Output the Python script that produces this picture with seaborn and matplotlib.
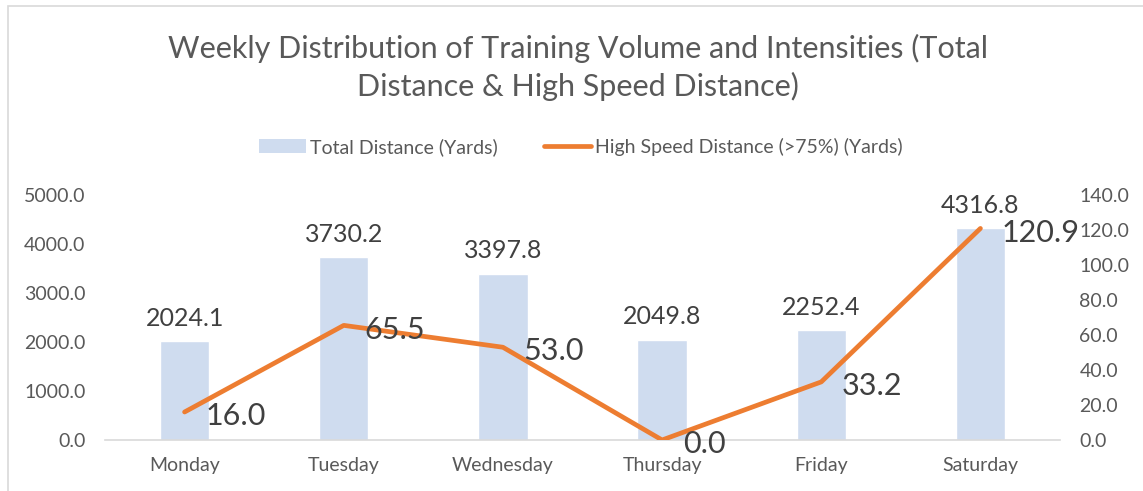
import pandas as pd
import seaborn as sns
import matplotlib.pyplot as plt
from matplotlib.patches import Patch, Rectangle
from matplotlib.lines import Line2D

days = ['Monday', 'Tuesday', 'Wednesday', 'Thursday', 'Friday', 'Saturday']
total_distance = [2024.1, 3730.2, 3397.8, 2049.8, 2252.4, 4316.8]
high_speed = [16.0, 65.5, 53.0, 0.0, 33.2, 120.9]

df = pd.DataFrame({'day': days, 'total': total_distance, 'hsd': high_speed})

sns.set_theme(style='white')
plt.rcParams['font.family'] = ['Lato', 'DejaVu Sans']

bar_color = '#CFDCEF'
line_color = '#ED7D31'
tick_color = '#595959'
label_color = '#404040'

fig = plt.figure(figsize=(11.43, 4.91), dpi=100)
fig.patches.append(Rectangle((8 / 1143, -0.1), 1.2, 1 - 6 / 491 + 0.1, transform=fig.transFigure,
                             fill=False, edgecolor='#D9D9D9', linewidth=1.2))

ax = fig.add_axes([105 / 1143, 1 - 440 / 491, 955 / 1143, 245 / 491])
sns.barplot(data=df, x='day', y='total', color=bar_color, width=0.31, saturation=1, ax=ax)
ax.set_ylim(0, 5000)
ax.set_xlim(-0.5, 5.5)
ax.set_yticks(range(0, 5001, 1000))
ax.set_yticklabels([f'{v:.1f}' for v in range(0, 5001, 1000)])
ax.bar_label(ax.containers[0], fmt='%.1f', padding=8, fontsize=18, color=label_color)
ax.set_xlabel('')
ax.set_ylabel('')
for s in ['top', 'right', 'left']:
    ax.spines[s].set_visible(False)
ax.spines['bottom'].set_color('#D9D9D9')
ax.spines['bottom'].set_linewidth(1.2)
ax.tick_params(axis='x', length=0, labelsize=14, colors=tick_color, pad=12)
ax.tick_params(axis='y', length=0, labelsize=14, colors=tick_color, pad=14)

ax2 = ax.twinx()
sns.lineplot(data=df, x='day', y='hsd', sort=False, color=line_color, linewidth=3.4,
             solid_capstyle='round', ax=ax2)
ax2.set_ylim(0, 140)
ax2.set_yticks(range(0, 141, 20))
ax2.set_yticklabels([f'{v:.1f}' for v in range(0, 141, 20)])
ax2.set_ylabel('')
for s in ['top', 'right', 'left', 'bottom']:
    ax2.spines[s].set_visible(False)
ax2.tick_params(axis='y', length=0, labelsize=14, colors=tick_color, pad=14)
for i, v in enumerate(high_speed):
    ax2.annotate(f'{v:.1f}', (i, v), xytext=(15, -3), textcoords='offset points',
                 ha='left', va='center', fontsize=22, color=label_color)
ax.set_xlim(-0.5, 5.5)

fig.text(0.506, 1 - 67.5 / 491,
         'Weekly Distribution of Training Volume and Intensities (Total\nDistance & High Speed Distance)',
         ha='center', va='center', fontsize=22, color=tick_color, linespacing=1.4)

handles = [Patch(facecolor=bar_color, edgecolor='none'),
           Line2D([0], [0], color=line_color, linewidth=3.4, solid_capstyle='round')]
fig.legend(handles, ['Total Distance (Yards)', 'High Speed Distance (>75%) (Yards)'],
           loc='center', bbox_to_anchor=(0.508, 1 - 147 / 491), ncol=2, frameon=False,
           fontsize=14, labelcolor=tick_color, handlelength=2.4, handletextpad=0.2,
           columnspacing=2.4)

fig.savefig('out.png', dpi=100, facecolor='white')
